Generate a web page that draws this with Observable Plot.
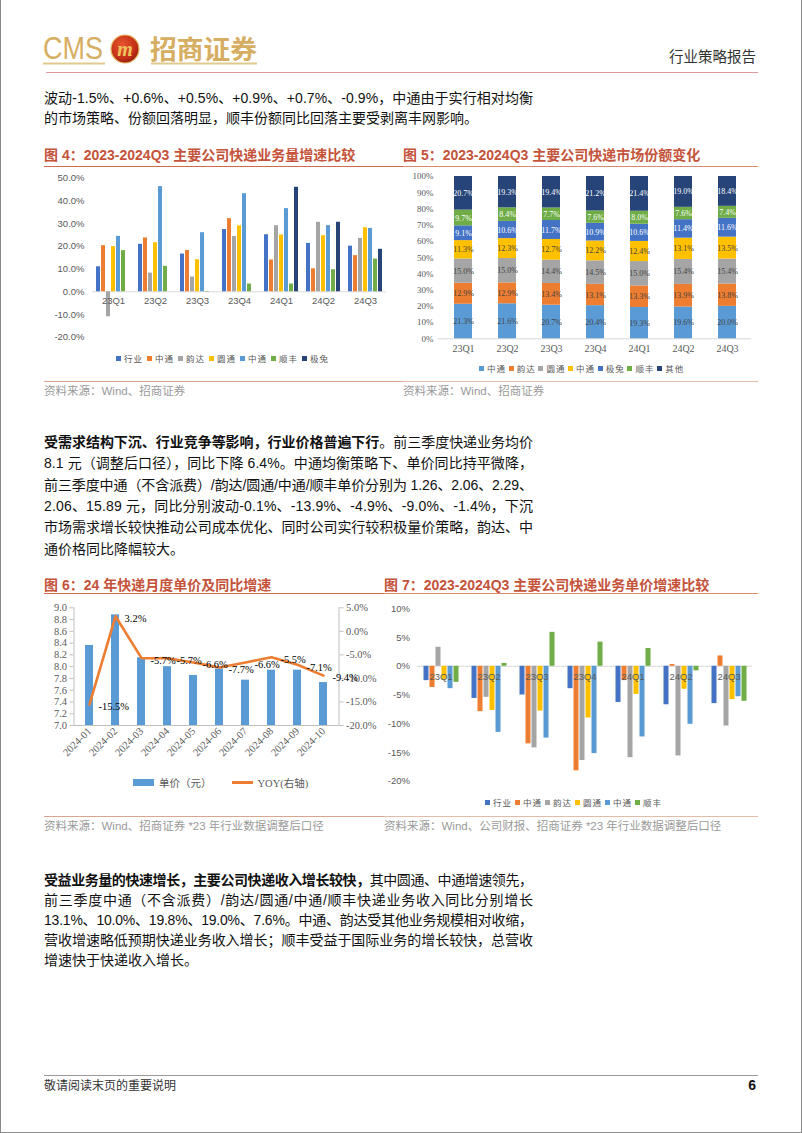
<!DOCTYPE html>
<html lang="zh-CN"><head><meta charset="utf-8"><title>招商证券 行业策略报告</title>
<script src="https://cdn.jsdelivr.net/npm/d3@7"></script>
<script src="https://cdn.jsdelivr.net/npm/@observablehq/plot@0.6"></script>
<style>
html,body{margin:0;padding:0;background:#fff;}
#page{position:relative;width:802px;height:1133px;overflow:hidden;background:#fff;font-family:"Liberation Sans","Noto Sans CJK SC",sans-serif;color:#111;box-sizing:border-box;border-left:1px solid #8a8a8a;border-right:1px solid #8a8a8a;border-bottom:1px solid #8a8a8a;}
.tl{position:absolute;left:43px;white-space:nowrap;font-size:14px;line-height:20px;height:20px;}
.title{position:absolute;font-size:14px;line-height:20px;color:#C4533A;font-weight:bold;white-space:nowrap;}
.src{position:absolute;font-size:11.5px;line-height:16px;color:#9a9a9a;white-space:nowrap;}
.hl{position:absolute;height:0;}
.chart{position:absolute;}
.chart svg{display:block;overflow:visible;}
.lg{position:absolute;display:flex;align-items:center;height:12px;font-size:8.5px;letter-spacing:1px;color:#595959;white-space:nowrap;font-family:"Noto Sans CJK SC",sans-serif;}
.lg .it{display:flex;align-items:center;}
.lg .sw{width:5px;height:5px;margin-right:3px;flex:none;}
</style></head>
<body><div id="page"></div>
<script>
// ---------------- DATA ----------------
// Fig 4: volume growth (%)
const quarters4 = ["23Q1","23Q2","23Q3","23Q4","24Q1","24Q2","24Q3"];
const seriesKeys4 = ["ind","zto","yd","yto","sto","sf","jt"];
const seriesLabels4 = ["行业","中通","韵达","圆通","中通","顺丰","极兔"];
const colors4 = ["#4472C4","#ED7D31","#A5A5A5","#FFC000","#5B9BD5","#70AD47","#264478"];
const growthInd4 = [11.0, 20.9, 16.6, 27.4, 25.1, 21.3, 20.1];
const growthZto4 = [20.3, 23.7, 18.2, 32.2, 14.0, 10.1, 15.9];
const growthYd4  = [-11.0, 8.2, 6.5, 24.3, 29.1, 30.6, 23.5];
const growthYto4 = [19.9, 21.6, 14.1, 29.0, 25.0, 24.7, 28.2];
const growthSto4 = [24.4, 46.3, 26.0, 43.2, 36.6, 29.1, 27.9];
const growthSf4  = [18.1, 11.2, -0.2, 3.4, 3.4, 9.7, 14.4];
const growthJt4  = [null, null, null, null, 46.0, 30.6, 18.7];
const ticks4 = [-20,-10,0,10,20,30,40,50];

// Fig 5: market share (%)
const quarters5 = ["23Q1","23Q2","23Q3","23Q4","24Q1","24Q2","24Q3"];
const seriesKeys5 = ["zto","yd","yto","sto","jt","sf","other"];
const seriesLabels5 = ["中通","韵达","圆通","中通","极兔","顺丰","其他"];
const colors5 = ["#5B9BD5","#ED7D31","#A5A5A5","#FFC000","#4472C4","#70AD47","#264478"];
const shareZto5   = [21.3, 21.6, 20.7, 20.4, 19.3, 19.6, 20.0];
const shareYd5    = [12.9, 12.9, 13.4, 13.1, 13.3, 13.9, 13.8];
const shareYto5   = [15.0, 15.0, 14.4, 14.5, 15.0, 15.4, 15.4];
const shareSto5   = [11.3, 12.3, 12.7, 12.2, 12.4, 13.1, 13.5];
const shareJt5    = [9.1, 10.6, 11.7, 10.9, 10.6, 11.4, 11.6];
const shareSf5    = [9.7, 8.4, 7.7, 7.6, 8.0, 7.6, 7.4];
const shareOther5 = [20.7, 19.3, 19.4, 21.2, 21.4, 19.0, 18.4];
const darkLabelKeys5 = ["zto","yd","yto","sto"];
const ticks5 = [0,0.1,0.2,0.3,0.4,0.5,0.6,0.7,0.8,0.9,1];

// Fig 6: monthly unit price and YoY
const months6 = ["2024-01","2024-02","2024-03","2024-04","2024-05","2024-06","2024-07","2024-08","2024-09","2024-10"];
const price6 = [8.36, 8.88, 8.15, 8.00, 7.85, 7.96, 7.77, 7.94, 7.94, 7.73];
const yoy6 = [-15.5, 3.2, -5.7, -5.7, -6.6, -7.7, -6.6, -5.5, -7.1, -9.4];
const priceDomain6 = [7, 9];
const yoyDomain6 = [-20, 5];
const priceTicks6 = [7.0,7.2,7.4,7.6,7.8,8.0,8.2,8.4,8.6,8.8,9.0];
const yoyTicks6 = [-20,-15,-10,-5,0,5];

// Fig 7: unit price growth (%)
const quarters7 = ["23Q1","23Q2","23Q3","23Q4","24Q1","24Q2","24Q3"];
const seriesKeys7 = ["ind","zto","yd","yto","sto","sf"];
const seriesLabels7 = ["行业","中通","韵达","圆通","中通","顺丰"];
const colors7 = ["#4472C4","#ED7D31","#A5A5A5","#FFC000","#5B9BD5","#70AD47"];
const priceInd7 = [-2.5, -5.6, -5.0, -3.9, -6.3, -6.7, -6.5];
const priceZto7 = [-3.7, -7.9, -13.5, -18.2, -2.5, 0.3, 1.8];
const priceYd7  = [3.3, -5.4, -14.2, -16.4, -15.9, -15.6, -10.4];
const priceYto7 = [-2.3, -7.7, -7.8, -9.0, -4.9, -4.0, -5.8];
const priceSto7 = [-3.9, -11.5, -12.5, -15.2, -12.3, -10.1, -5.3];
const priceSf7  = [-2.8, 0.5, 5.9, 4.2, 3.1, -0.8, -6.1];
const ticks7 = [-20,-15,-10,-5,0,5,10];

// ---------------- PAGE ----------------
const page = document.getElementById("page");
function el(tag, cls, css, html) {
  const e = document.createElement(tag);
  if (cls) e.className = cls;
  if (css) e.style.cssText = css;
  if (html !== undefined) e.innerHTML = html;
  page.appendChild(e);
  return e;
}

// header
el("div", null, "position:absolute;left:0;top:0;width:802px;height:80px;", `
<svg width="802" height="80" style="display:block">
  <defs><radialGradient id="ball" cx="40%" cy="35%" r="70%"><stop offset="0" stop-color="#E8552E"/><stop offset="0.7" stop-color="#C22F17"/><stop offset="1" stop-color="#8E1B0C"/></radialGradient></defs>
  <text x="42" y="59" font-family="Liberation Sans" font-size="31" fill="#D6AE62" textLength="60" lengthAdjust="spacingAndGlyphs">CMS</text>
  <circle cx="124" cy="49" r="14" fill="url(#ball)" stroke="#E3B75E" stroke-width="1.2"/>
  <text x="124" y="56" text-anchor="middle" font-family="Liberation Serif" font-style="italic" font-weight="bold" font-size="20" fill="#F0C35C">m</text>
  <text x="149" y="59" font-family="Noto Sans CJK SC" font-weight="bold" font-size="26" fill="#D6AE62" textLength="107" lengthAdjust="spacingAndGlyphs">招商证券</text>
  <line x1="42" x2="104" y1="63.5" y2="63.5" stroke="#E2C98E" stroke-width="2"/>
  <line x1="150" x2="256" y1="63.5" y2="63.5" stroke="#E2C98E" stroke-width="2"/>
  <line x1="45" x2="757" y1="72.5" y2="72.5" stroke="#D99A98" stroke-width="1"/>
</svg>`);
el("div", null, "position:absolute;right:45px;top:46px;font-size:14.5px;line-height:20px;color:#333;font-family:'Noto Sans CJK SC',sans-serif;", "行业策略报告");

// text lines
function addLine(parts, cy, justify) {
  const div = el("div", "tl", `top:${cy - 10}px;`);
  parts.forEach(([t, b]) => {
    const s = document.createElement("span");
    s.textContent = t;
    if (b) s.style.fontWeight = "bold";
    div.appendChild(s);
  });
  if (justify) {
    const w = div.getBoundingClientRect().width;
    const n = [...div.textContent].length;
    div.style.letterSpacing = ((489 - w) / (n - 1)) + "px";
  }
}
addLine([["波动-1.5%、+0.6%、+0.5%、+0.9%、+0.7%、-0.9%，中通由于实行相对均衡"]], 97.5, true);
addLine([["的市场策略、份额回落明显，顺丰份额同比回落主要受剥离丰网影响。"]], 117.5, false);

addLine([["受需求结构下沉、行业竞争等影响，行业价格普遍下行", true], ["。前三季度快递业务均价"]], 442, true);
addLine([["8.1 元（调整后口径），同比下降 6.4%。中通均衡策略下、单价同比持平微降，"]], 463.3, true);
addLine([["前三季度中通（不含派费）/韵达/圆通/中通/顺丰单价分别为 1.26、2.06、2.29、"]], 484.6, true);
addLine([["2.06、15.89 元，同比分别波动-0.1%、-13.9%、-4.9%、-9.0%、-1.4%，下沉"]], 505.9, true);
addLine([["市场需求增长较快推动公司成本优化、同时公司实行较积极量价策略，韵达、中"]], 527.2, true);
addLine([["通价格同比降幅较大。"]], 548.5, false);

addLine([["受益业务量的快速增长，主要公司快递收入增长较快，", true], ["其中圆通、中通增速领先，"]], 880, true);
addLine([["前三季度中通（不含派费）/韵达/圆通/中通/顺丰快递业务收入同比分别增长"]], 900, true);
addLine([["13.1%、10.0%、19.8%、19.0%、7.6%。中通、韵达受其他业务规模相对收缩，"]], 920, true);
addLine([["营收增速略低预期快递业务收入增长；顺丰受益于国际业务的增长较快，总营收"]], 940, true);
addLine([["增速快于快递收入增长。"]], 960, false);

// figure titles & rules
el("div", "title", "left:43px;top:145px;", "图 4：2023-2024Q3 主要公司快递业务量增速比较");
el("div", "title", "left:402px;top:145px;", "图 5：2023-2024Q3 主要公司快递市场份额变化");
el("div", "hl", "left:43px;top:166px;width:359px;border-top:1.5px solid #CF6A4C;");
el("div", "hl", "left:402px;top:166px;width:355px;border-top:1.5px solid #D98A70;");
el("div", "hl", "left:43px;top:381px;width:359px;border-top:1.5px solid #D9A58F;");
el("div", "hl", "left:402px;top:381px;width:355px;border-top:1.5px solid #E2BBAA;");
el("div", "src", "left:43px;top:383px;", "资料来源：Wind、招商证券");
el("div", "src", "left:402px;top:383px;", "资料来源：Wind、招商证券");

el("div", "title", "left:43px;top:575px;", "图 6：24 年快递月度单价及同比增速");
el("div", "title", "left:383px;top:575px;", "图 7：2023-2024Q3 主要公司快递业务单价增速比较");
el("div", "hl", "left:43px;top:593px;width:340px;border-top:1.5px solid #CF6A4C;");
el("div", "hl", "left:383px;top:593px;width:374px;border-top:1.5px solid #D98A70;");
el("div", "hl", "left:43px;top:816px;width:340px;border-top:1.5px solid #D9A58F;");
el("div", "hl", "left:383px;top:816px;width:374px;border-top:1.5px solid #E2BBAA;");
el("div", "src", "left:43px;top:818px;", "资料来源：Wind、招商证券 *23 年行业数据调整后口径");
el("div", "src", "left:383px;top:818px;", "资料来源：Wind、公司财报、招商证券 *23 年行业数据调整后口径");

// footer
el("div", "hl", "left:43px;top:1075px;width:714px;border-top:1px solid #9a9a9a;");
el("div", null, "position:absolute;left:43px;top:1077px;font-size:12px;line-height:16px;color:#333;font-family:'Noto Sans CJK SC',sans-serif;", "敬请阅读末页的重要说明");
el("div", null, "position:absolute;right:45px;top:1076px;font-size:14px;line-height:18px;color:#111;font-weight:bold;", "6");

// legends
function legend(left, cy, labels, colors, itemWidth) {
  const d = el("div", "lg", `left:${left}px;top:${cy - 6}px;`);
  labels.forEach((t, i) => {
    const it = document.createElement("div");
    it.className = "it";
    it.style.width = itemWidth + "px";
    it.innerHTML = `<span class="sw" style="background:${colors[i]}"></span><span>${t}</span>`;
    d.appendChild(it);
  });
}

function addChart(node, left, top) {
  const d = el("div", "chart", `left:${left}px;top:${top}px;`);
  d.appendChild(node);
}

// ---------------- FIG 4 ----------------
const growth4 = [growthInd4, growthZto4, growthYd4, growthYto4, growthSto4, growthSf4, growthJt4];
const d4 = [];
quarters4.forEach((q, i) => seriesKeys4.forEach((k, j) => {
  const v = growth4[j][i];
  if (v !== null) d4.push({q, k, v});
}));
const step4 = 300 / 7;
addChart(Plot.plot({
  width: 360, height: 200, marginLeft: 48, marginRight: 12, marginTop: 7.7, marginBottom: 33.3,
  style: {fontFamily: "Liberation Sans, Noto Sans CJK SC, sans-serif", fontSize: "9.5px", color: "#595959", background: "transparent", overflow: "visible"},
  fx: {domain: quarters4, paddingInner: 0.18, paddingOuter: 0.09, axis: null, label: null},
  x: {domain: seriesKeys4, paddingInner: 0.2, paddingOuter: 0, axis: null, label: null},
  y: {domain: [-20, 50], label: null},
  color: {domain: seriesKeys4, range: colors4},
  marks: [
    Plot.axisY({ticks: ticks4, tickSize: 0, tickPadding: 12, tickFormat: d => d.toFixed(1) + "%", fill: "#595959", fontSize: 9.5}),
    Plot.ruleY([0], {stroke: "#D9D9D9", insetLeft: -step4 * 0.09, insetRight: -step4 * 0.09}),
    Plot.barY(d4, {fx: "q", x: "k", y: "v", fill: "k"}),
    Plot.text(quarters4, {fx: d => d, y: () => 0, text: d => d, dy: 9.5, fill: "#595959", fontSize: 9.5})
  ]
}), 40, 170);
legend(115, 358, seriesLabels4, colors4, 31);

// ---------------- FIG 5 ----------------
const share5 = [shareZto5, shareYd5, shareYto5, shareSto5, shareJt5, shareSf5, shareOther5];
const d5 = [];
quarters5.forEach((q, i) => seriesKeys5.forEach((k, j) => d5.push({q, k, v: share5[j][i]})));
addChart(Plot.plot({
  width: 360, height: 205, marginLeft: 36.6, marginRight: 9.8, marginTop: 6, marginBottom: 36.7,
  style: {fontFamily: "Liberation Serif, Noto Sans CJK SC, serif", fontSize: "9.5px", color: "#595959", background: "transparent", overflow: "visible"},
  x: {domain: quarters5, paddingInner: 0.6, paddingOuter: 0.3, label: null},
  y: {domain: [0, 1], label: null},
  color: {domain: seriesKeys5, range: colors5},
  marks: [
    Plot.axisY({ticks: ticks5, tickSize: 0, tickPadding: 4.5, tickFormat: d3.format(".0%"), fill: "#595959", fontSize: 9}),
    Plot.axisX({tickSize: 0, tickPadding: 6.5, fill: "#595959", fontSize: 10}),
    Plot.ruleY([0], {stroke: "#D9D9D9"}),
    Plot.barY(d5, Plot.stackY({offset: "normalize"}, {x: "q", y: "v", fill: "k"})),
    Plot.text(d5, Plot.stackY({offset: "normalize"}, {x: "q", y: "v", z: "k",
      text: d => darkLabelKeys5.includes(d.k) ? d.v.toFixed(1) + "%" : "", fill: "#444", fontSize: 8})),
    Plot.text(d5, Plot.stackY({offset: "normalize"}, {x: "q", y: "v", z: "k",
      text: d => darkLabelKeys5.includes(d.k) ? "" : d.v.toFixed(1) + "%", fill: "#ffffff", fontSize: 8}))
  ]
}), 400, 170);
legend(478, 368, seriesLabels5, colors5, 29.7);

// ---------------- FIG 6 ----------------
const toLeft6 = p => priceDomain6[0] + (p - yoyDomain6[0]) / (yoyDomain6[1] - yoyDomain6[0]) * (priceDomain6[1] - priceDomain6[0]);
const fromLeft6 = v => yoyDomain6[0] + (v - priceDomain6[0]) / (priceDomain6[1] - priceDomain6[0]) * (yoyDomain6[1] - yoyDomain6[0]);
const d6 = months6.map((m, i) => ({m, price: price6[i], yoy: yoy6[i]}));
addChart(Plot.plot({
  width: 340, height: 180, marginLeft: 32.5, marginRight: 42.5, marginTop: 10.3, marginBottom: 52,
  style: {fontFamily: "Liberation Serif, Noto Sans CJK SC, serif", fontSize: "10.5px", color: "#595959", background: "transparent", overflow: "visible"},
  x: {domain: months6, paddingInner: 0.7, paddingOuter: 0.35, label: null},
  y: {domain: priceDomain6, label: null},
  marks: [
    Plot.axisY({ticks: priceTicks6, anchor: "left", tickSize: 4, tickPadding: 3, tickFormat: d => d.toFixed(1), fill: "#595959", stroke: "#BFBFBF"}),
    Plot.axisY({ticks: yoyTicks6.map(toLeft6), anchor: "right", tickSize: 4, tickPadding: 3,
      tickFormat: v => ((Math.round(fromLeft6(v) * 10) / 10) || 0).toFixed(1) + "%", fill: "#595959", stroke: "#BFBFBF"}),
    Plot.axisX({tickRotate: -45, tickSize: 0, tickPadding: 4, fill: "#595959", fontSize: 10.5}),
    Plot.frame({anchor: "left", stroke: "#BFBFBF"}),
    Plot.frame({anchor: "right", stroke: "#BFBFBF"}),
    Plot.barY(d6, {x: "m", y1: () => priceDomain6[0], y2: "price", fill: "#5B9BD5"}),
    Plot.ruleY([priceDomain6[0]], {stroke: "#BFBFBF"}),
    Plot.lineY(d6, {x: "m", y: d => toLeft6(d.yoy), stroke: "#ED7D31", strokeWidth: 2.6}),
    Plot.text(d6, {x: "m", y: d => toLeft6(d.yoy), text: d => d.yoy.toFixed(1) + "%", textAnchor: "start", dx: 9, dy: 2.5, fill: "#000", fontSize: 10.5})
  ]
}), 40, 597);
el("div", null, "position:absolute;left:132px;top:776px;display:flex;align-items:center;height:12px;font-size:10.5px;color:#595959;font-family:'Liberation Serif','Noto Sans CJK SC',serif;white-space:nowrap;",
  `<span style="width:21px;height:7px;background:#5B9BD5;margin-right:5px"></span><span>单价（元）</span><span style="width:21px;height:3px;background:#ED7D31;margin-left:20px;margin-right:5px"></span><span>YOY(右轴)</span>`);

// ---------------- FIG 7 ----------------
const price7 = [priceInd7, priceZto7, priceYd7, priceYto7, priceSto7, priceSf7];
const d7 = [];
quarters7.forEach((q, i) => seriesKeys7.forEach((k, j) => d7.push({q, k, v: price7[j][i]})));
const step7 = 336 / 7;
addChart(Plot.plot({
  width: 380, height: 195, marginLeft: 35.5, marginRight: 8.5, marginTop: 11.3, marginBottom: 11.3,
  style: {fontFamily: "Liberation Sans, Noto Sans CJK SC, sans-serif", fontSize: "9.5px", color: "#595959", background: "transparent", overflow: "visible"},
  fx: {domain: quarters7, paddingInner: 0.22, paddingOuter: 0.11, axis: null, label: null},
  x: {domain: seriesKeys7, paddingInner: 0.25, paddingOuter: 0, axis: null, label: null},
  y: {domain: [-20, 10], label: null},
  color: {domain: seriesKeys7, range: colors7},
  marks: [
    Plot.axisY({ticks: ticks7, tickSize: 0, tickPadding: 12.5, tickFormat: d => d + "%", fill: "#595959", fontSize: 9.5}),
    Plot.ruleY([0], {stroke: "#D9D9D9", insetLeft: -step7 * 0.11, insetRight: -step7 * 0.11}),
    Plot.barY(d7, {fx: "q", x: "k", y: "v", fill: "k"}),
    Plot.text(quarters7, {fx: d => d, y: () => 0, text: d => d, dy: 11, fill: "#595959", fontSize: 9.5})
  ]
}), 380, 597);
legend(484, 802, seriesLabels7, colors7, 30);
</script></body></html>
